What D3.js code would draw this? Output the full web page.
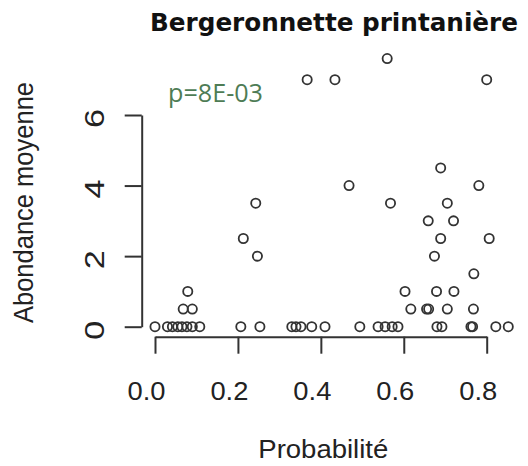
<!DOCTYPE html>
<html>
<head>
<meta charset="utf-8">
<script src="https://cdn.jsdelivr.net/npm/d3@7"></script>
<style>
  body { margin: 0; background: white; }
</style>
</head>
<body>
<svg id="plot"></svg>
<script>
"use strict";

// Values
var prob_zero = [0.0, 0.03, 0.042, 0.055, 0.065, 0.077, 0.09, 0.108, 0.207, 0.253,
                 0.33, 0.34, 0.352, 0.378, 0.41, 0.494, 0.538, 0.555, 0.572, 0.586,
                 0.68, 0.692, 0.762, 0.766, 0.822, 0.852];
var prob = [0.068, 0.09, 0.617, 0.655, 0.66, 0.705, 0.768,
            0.079, 0.603, 0.679, 0.721,
            0.769,
            0.247, 0.674,
            0.213, 0.689, 0.806,
            0.659, 0.72,
            0.243, 0.568, 0.705,
            0.468, 0.781,
            0.689,
            0.367, 0.434, 0.80,
            0.56];
var abund = [0.5, 0.5, 0.5, 0.5, 0.5, 0.5, 0.5,
             1, 1, 1, 1,
             1.5,
             2, 2,
             2.5, 2.5, 2.5,
             3, 3,
             3.5, 3.5, 3.5,
             4, 4,
             4.5,
             7, 7, 7,
             7.6];
var x_ticks = [0, 0.2, 0.4, 0.6, 0.8];
var y_ticks = [0, 2, 4, 6];

var title = "Bergeronnette printanière";
var x_title = "Probabilité";
var y_title = "Abondance moyenne";
var p_label = "p=8E-03";

const width = 528, height = 466;
const INK = "#333";

var svg = d3.select("#plot")
    .attr("width", width)
    .attr("height", height)
    .style("background-color", "white");

var x_scale = d3.scaleLinear().domain([0, 0.8]).range([155, 486.7]);
var y_scale = d3.scaleLinear().domain([0, 6]).range([326.7, 115]);

// all the points, the zero row first
var points = prob_zero.map(function (p) { return {"x": p, "y": 0}; })
    .concat(prob.map(function (p, i) { return {"x": p, "y": abund[i]}; }));

// R style axes: line only between the first and last tick
var x_axis = d3.axisBottom(x_scale)
    .tickValues(x_ticks)
    .tickSize(17)
    .tickSizeOuter(0)
    .tickFormat(d3.format(".1f"));

var gx = svg.append("g")
    .attr("class", "x_axis")
    .attr("transform", "translate(0,336.7)")
    .call(x_axis);

gx.select(".domain").attr("stroke", INK).attr("stroke-width", 2);
gx.selectAll(".tick line").attr("stroke", INK).attr("stroke-width", 2);
gx.selectAll(".tick text")
    .attr("x", -9)
    .attr("y", 63)
    .attr("dy", 0)
    .attr("fill", "#222")
    .attr("font-family", "'Liberation Sans', Arial, sans-serif")
    .attr("font-size", 25)
    .attr("textLength", 38)
    .attr("lengthAdjust", "spacingAndGlyphs");

var y_axis = d3.axisLeft(y_scale)
    .tickValues(y_ticks)
    .tickSize(17)
    .tickSizeOuter(0)
    .tickFormat(d3.format("d"));

var gy = svg.append("g")
    .attr("class", "y_axis")
    .attr("transform", "translate(141.7,0)")
    .call(y_axis);

gy.select(".domain").attr("stroke", INK).attr("stroke-width", 2);
gy.selectAll(".tick line").attr("stroke", INK).attr("stroke-width", 2);
gy.selectAll(".tick text")
    .attr("transform", "rotate(-90)")
    .attr("text-anchor", "middle")
    .attr("x", -3)
    .attr("y", -37.5)
    .attr("dy", 0)
    .attr("fill", "#222")
    .attr("font-family", "'Liberation Sans', Arial, sans-serif")
    .attr("font-size", 27)
    .attr("textLength", 19)
    .attr("lengthAdjust", "spacingAndGlyphs");

// the points
svg.append("g")
    .selectAll("circle")
    .data(points)
    .enter()
    .append("circle")
    .attr("cx", function (d) { return x_scale(d.x); })
    .attr("cy", function (d) { return y_scale(d.y); })
    .attr("r", 4.6)
    .attr("fill", "none")
    .attr("stroke", INK)
    .attr("stroke-width", 1.8);

// Title and axis titles
svg.append("text")
    .attr("x", 150)
    .attr("y", 31)
    .attr("font-family", "'DejaVu Sans', Verdana, sans-serif")
    .attr("font-weight", "bold")
    .attr("font-size", 24)
    .attr("textLength", 368)
    .attr("lengthAdjust", "spacingAndGlyphs")
    .attr("fill", "#111")
    .text(title);

svg.append("text")
    .attr("x", 258.3)
    .attr("y", 458.3)
    .attr("font-family", "'Liberation Sans', Arial, sans-serif")
    .attr("font-size", 26)
    .attr("textLength", 130)
    .attr("lengthAdjust", "spacingAndGlyphs")
    .attr("fill", "#222")
    .text(x_title);

svg.append("text")
    .attr("transform", "translate(33.3,202.5) rotate(-90)")
    .attr("text-anchor", "middle")
    .attr("font-family", "'Liberation Sans', Arial, sans-serif")
    .attr("font-size", 27)
    .attr("textLength", 241)
    .attr("lengthAdjust", "spacingAndGlyphs")
    .attr("fill", "#222")
    .text(y_title);

// p-value annotation
svg.append("text")
    .attr("x", 168)
    .attr("y", 101.7)
    .attr("font-family", "'Open Sans', sans-serif")
    .attr("font-size", 26)
    .attr("textLength", 95)
    .attr("lengthAdjust", "spacingAndGlyphs")
    .attr("fill", "#4e7c55")
    .text(p_label);
</script>
</body>
</html>
